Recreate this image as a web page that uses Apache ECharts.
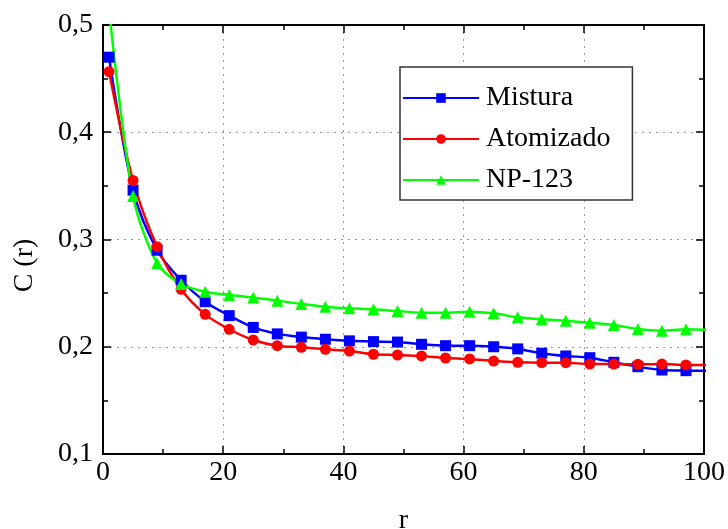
<!DOCTYPE html>
<html>
<head>
<meta charset="utf-8">
<script src="https://cdn.jsdelivr.net/npm/echarts@6/dist/echarts.min.js"></script>
<style>
  html, body { margin: 0; padding: 0; background: #fff; }
  #chart { width: 728px; height: 529px; }
</style>
</head>
<body>
<div id="chart"></div>
<script>
// Distance r (sampled every 4 units; last point lies just past the axis end)
const rValues = [1, 5, 9, 13, 17, 21, 25, 29, 33, 37, 41, 45, 49, 53, 57, 61, 65, 69, 73, 77, 81, 85, 89, 93, 97, 101];

// C(r) for each sample
const mistura = [0.470, 0.346, 0.290, 0.262, 0.242, 0.229, 0.218, 0.212, 0.209, 0.207, 0.2055, 0.2048, 0.2044, 0.2023, 0.201, 0.201, 0.200, 0.198, 0.194, 0.1914, 0.1898, 0.1855, 0.1814, 0.1783, 0.1777, 0.1775];
const atomizado = [0.4565, 0.355, 0.2933, 0.2536, 0.2302, 0.2163, 0.2063, 0.201, 0.1995, 0.1976, 0.196, 0.193, 0.1923, 0.1914, 0.1895, 0.1886, 0.1867, 0.1855, 0.1851, 0.1851, 0.1839, 0.1839, 0.1836, 0.1839, 0.183, 0.183];
const np123 = [0.515, 0.3406, 0.2778, 0.2585, 0.2513, 0.2483, 0.246, 0.243, 0.2399, 0.2374, 0.2358, 0.2349, 0.2333, 0.2318, 0.2318, 0.2327, 0.2312, 0.2274, 0.2256, 0.2243, 0.2224, 0.2203, 0.2166, 0.215, 0.2163, 0.2156];

const seriesNames = ['Mistura', 'Atomizado', 'NP-123'];
const xTicks = { min: 0, max: 100, interval: 20 };
const yTicks = { min: 0.1, max: 0.5, interval: 0.1 };

const FONT = 'Liberation Serif';
const pairs = (ys) => rValues.map((r, i) => [r, ys[i]]);

const chart = echarts.init(document.getElementById('chart'), null, { renderer: 'canvas' });

const axisCommon = {
  axisLine: { show: true, onZero: false, lineStyle: { color: '#000', width: 2 } },
  axisTick: { show: true, inside: true, length: 8, lineStyle: { color: '#000', width: 1.5 } },
  minorTick: { show: true, splitNumber: 2, length: 5, lineStyle: { color: '#000', width: 1.5 } },
};

const lineSeries = (name, ys, color, symbol, size) => ({
  name,
  type: 'line',
  data: pairs(ys),
  smooth: 0.3,
  clip: true,
  symbol,
  symbolSize: size,
  lineStyle: { color, width: 2.5 },
  itemStyle: { color },
  z: 3
});

chart.setOption({
  animation: false,
  backgroundColor: '#fff',
  textStyle: { fontFamily: FONT },
  grid: { left: 103, top: 25, right: 24, bottom: 75, containLabel: false, outerBoundsMode: 'none' },
  legend: {
    data: seriesNames,
    orient: 'vertical',
    left: 400,
    top: 67,
    itemWidth: 76,
    itemHeight: 12,
    itemGap: 13,
    padding: [17, 22, 6, 2],
    borderColor: '#333',
    borderWidth: 1.5,
    backgroundColor: '#fff',
    textStyle: { fontFamily: FONT, fontSize: 28, color: '#000', padding: [0, 0, 0, 2] }
  },
  xAxis: [
    Object.assign({
      type: 'value',
      position: 'bottom',
      min: xTicks.min, max: xTicks.max, interval: xTicks.interval,
      name: 'r',
      nameLocation: 'middle',
      nameGap: 53,
      nameTextStyle: { fontFamily: FONT, fontSize: 28, color: '#000' },
      axisLabel: { fontFamily: FONT, fontSize: 28, color: '#000', margin: 5 },
      splitLine: { show: true, lineStyle: { color: '#999', width: 1, type: [2, 5] } }
    }, axisCommon),
    Object.assign({
      type: 'value',
      position: 'top',
      min: xTicks.min, max: xTicks.max, interval: xTicks.interval,
      axisLabel: { show: false },
      splitLine: { show: false }
    }, axisCommon)
  ],
  yAxis: [
    Object.assign({
      type: 'value',
      position: 'left',
      min: yTicks.min, max: yTicks.max, interval: yTicks.interval,
      name: 'C (r)',
      nameLocation: 'middle',
      nameGap: 64,
      nameRotate: 90,
      nameTextStyle: { fontFamily: FONT, fontSize: 28, color: '#000', padding: [0, 52, 0, 0] },
      axisLabel: {
        fontFamily: FONT, fontSize: 28, color: '#000', margin: 10,
        formatter: (v) => v.toFixed(1).replace('.', ',')
      },
      splitLine: { show: true, lineStyle: { color: '#999', width: 1, type: [2, 5] } }
    }, axisCommon),
    Object.assign({
      type: 'value',
      position: 'right',
      min: yTicks.min, max: yTicks.max, interval: yTicks.interval,
      axisLabel: { show: false },
      splitLine: { show: false }
    }, axisCommon)
  ],
  series: [
    lineSeries(seriesNames[0], mistura, '#0000ff', 'rect', 11),
    lineSeries(seriesNames[1], atomizado, '#ff0000', 'circle', 11),
    lineSeries(seriesNames[2], np123, '#00ff00', 'triangle', 12)
  ]
});
</script>
</body>
</html>
